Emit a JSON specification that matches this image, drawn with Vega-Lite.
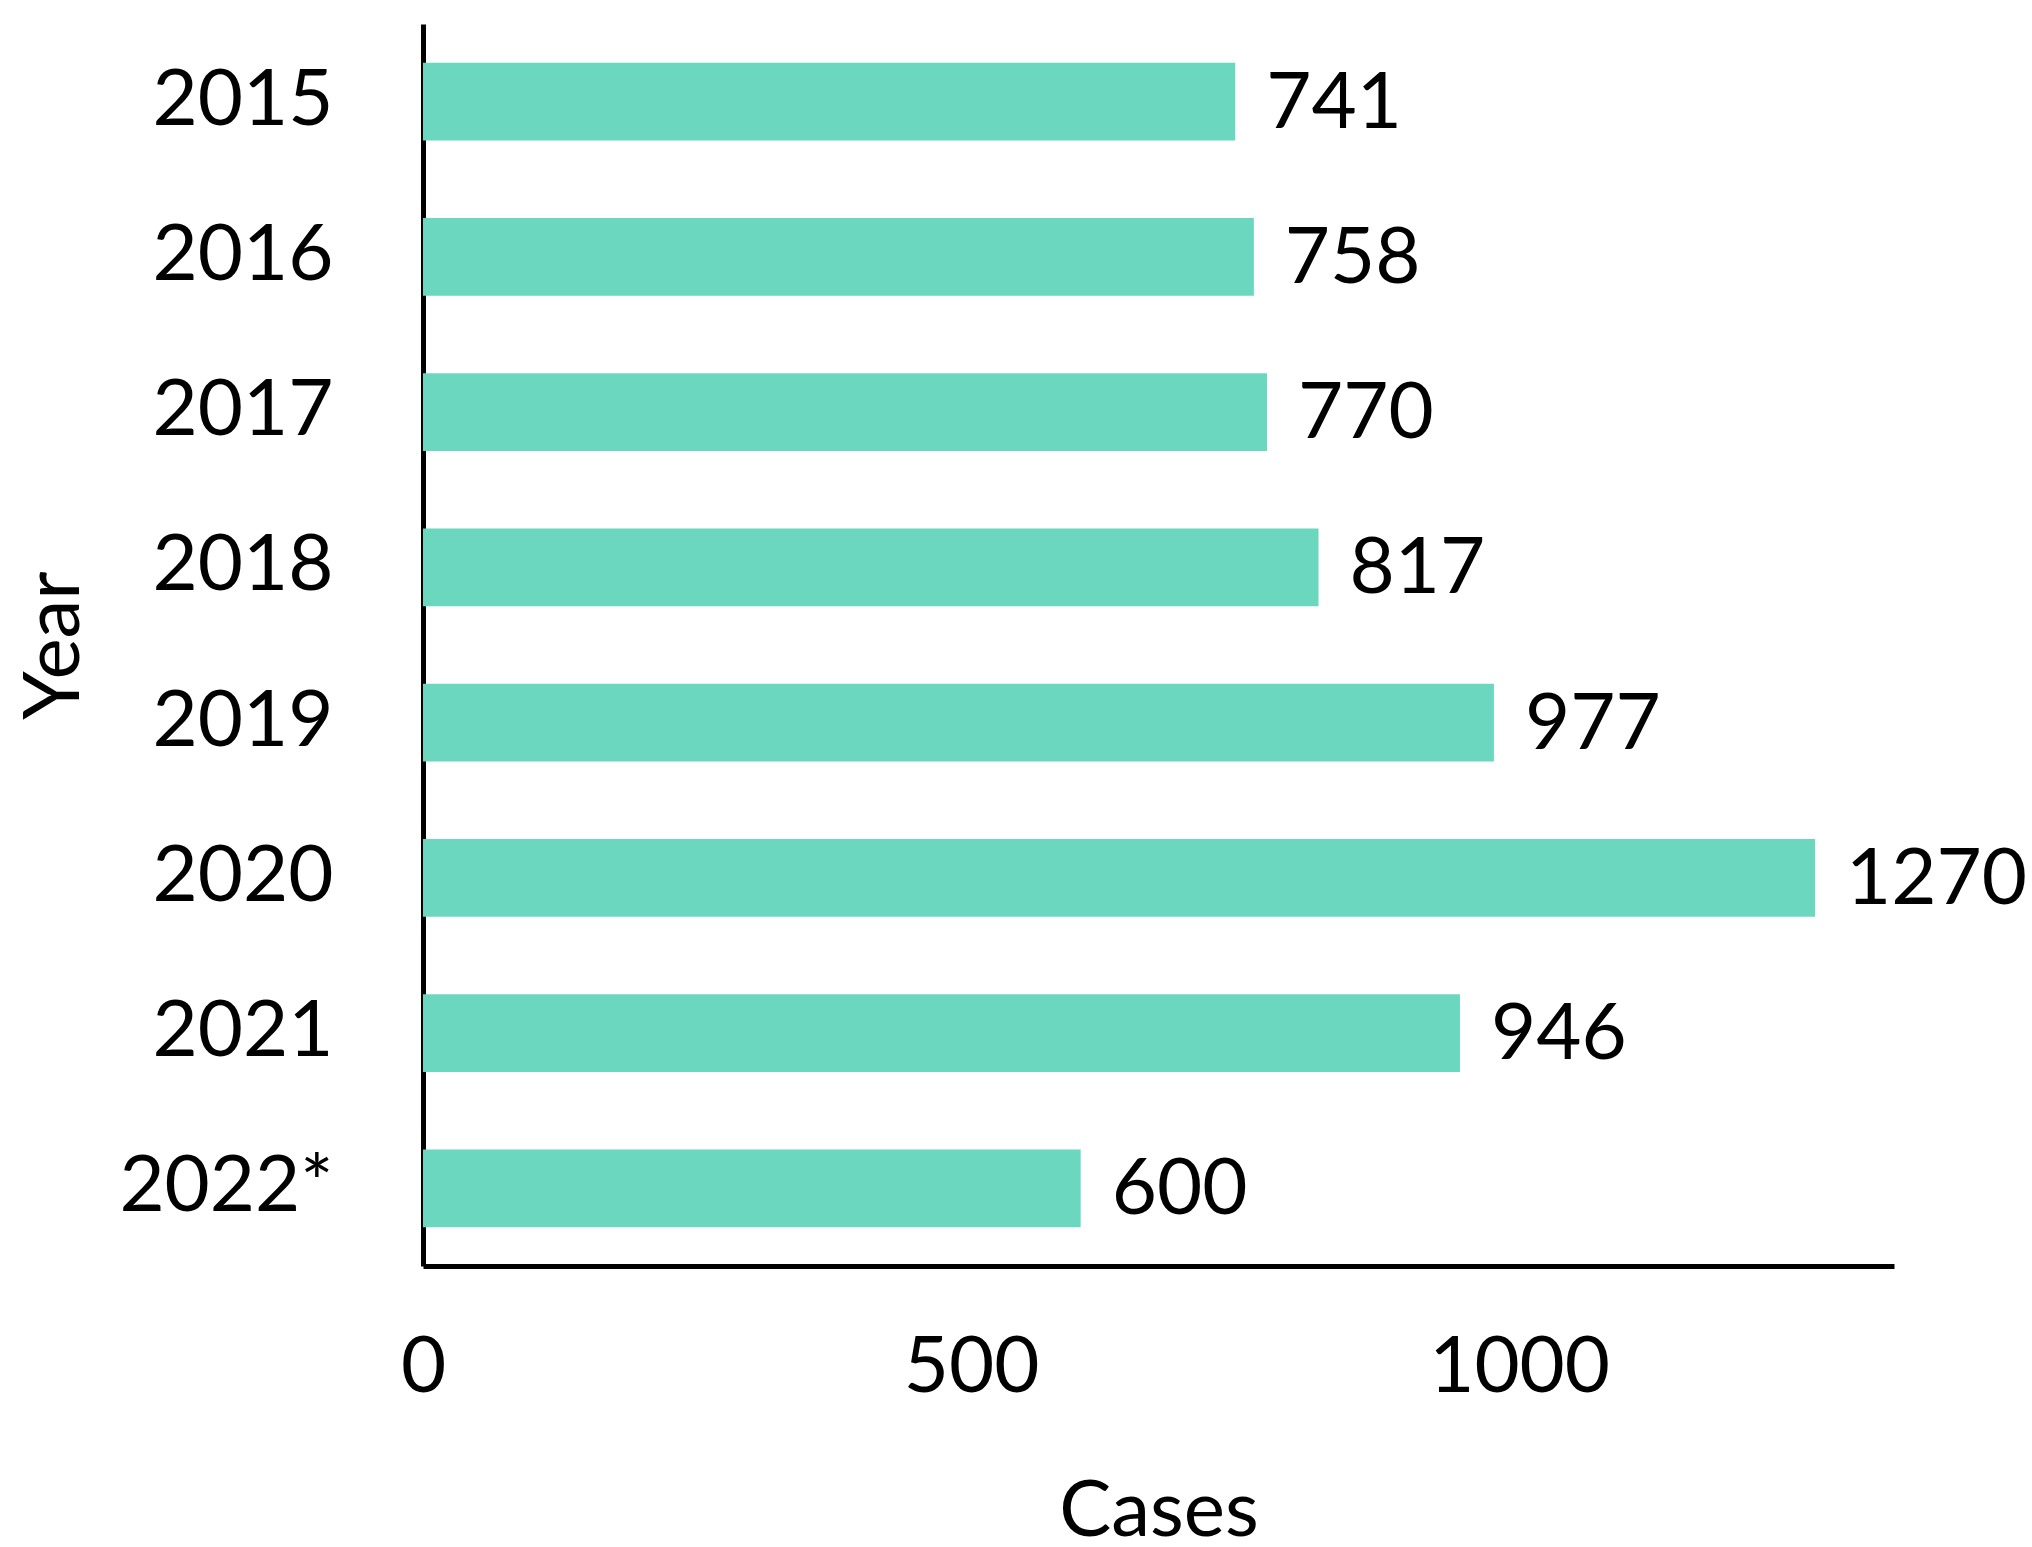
{
  "$schema": "https://vega.github.io/schema/vega-lite/v6.json",
  "autosize": "none",
  "width": 1471,
  "height": 1242,
  "padding": {"left": 423, "top": 24, "right": 138, "bottom": 281},
  "background": "white",
  "config": {
    "view": {"stroke": null},
    "font": "Lato",
    "axis": {"grid": false, "ticks": false, "tickSize": 0, "domainColor": "black", "domainWidth": 5, "labelColor": "black", "titleColor": "black", "labelFont": "Lato", "titleFont": "Lato", "labelFontSize": 78, "titleFontSize": 78, "titleFontWeight": "normal", "labelLimit": 0}
  },
  "data": {
    "values": [
      {"Year": "2015", "Cases": 741},
      {"Year": "2016", "Cases": 758},
      {"Year": "2017", "Cases": 770},
      {"Year": "2018", "Cases": 817},
      {"Year": "2019", "Cases": 977},
      {"Year": "2020", "Cases": 1270},
      {"Year": "2021", "Cases": 946},
      {"Year": "2022*", "Cases": 600}
    ]
  },
  "encoding": {
    "y": {"field": "Year", "type": "nominal", "sort": null, "scale": {"paddingInner": 0.5, "paddingOuter": 0.25}, "axis": {"title": "Year", "labelPadding": 90, "titleX": -329, "titleY": 621, "titleAngle": -90, "titleBaseline": "bottom", "titleAlign": "center"}},
    "x": {"field": "Cases", "type": "quantitative", "scale": {"domain": [0, 1342], "nice": false, "zero": true}, "axis": {"title": "Cases", "values": [0, 500, 1000], "format": "d", "labelPadding": 63, "titlePadding": 66, "labelFlush": false}}
  },
  "layer": [
    {"mark": {"type": "bar", "color": "#6CD7BF"}},
    {"mark": {"type": "text", "align": "left", "baseline": "middle", "dx": 31, "dy": 3, "fontSize": 78, "font": "Lato", "color": "black"}, "encoding": {"text": {"field": "Cases", "type": "quantitative"}}}
  ]
}
